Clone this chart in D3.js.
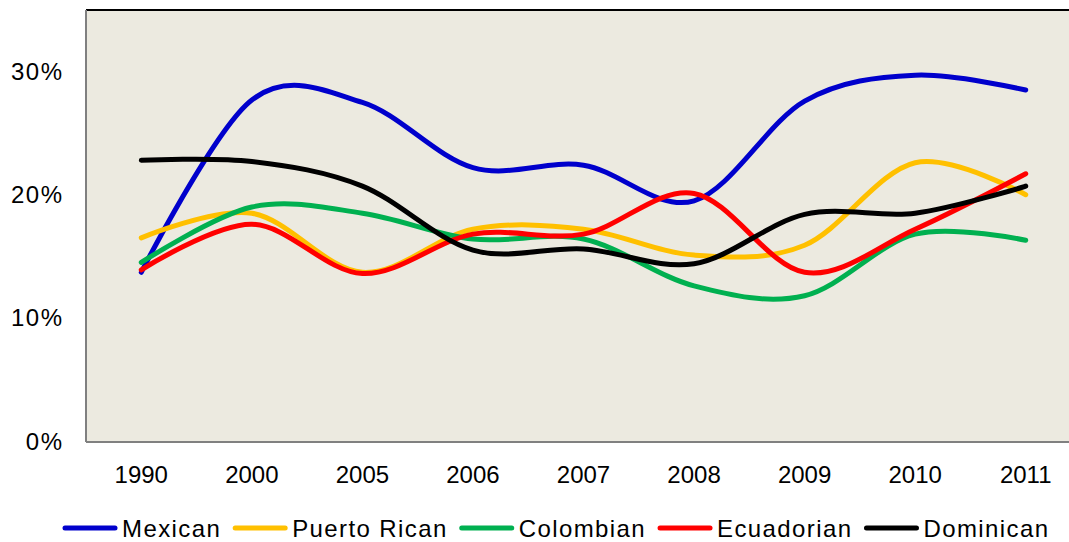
<!DOCTYPE html>
<html>
<head>
    <title>share by origin</title>
    <style>
        body {
            background: #ffffff;
            margin: 0;
            padding: 0;
            font-family: "Liberation Sans", Arial, sans-serif;
        }
        .tick-label {
            font-size: 24px;
            fill: #000000;
        }
        .y-label {
            letter-spacing: 1.5px;
        }
        .legend-text {
            font-size: 24px;
            fill: #000000;
            letter-spacing: 1.4px;
        }
        .series {
            fill: none;
            stroke-width: 5;
            stroke-linecap: round;
            stroke-linejoin: round;
        }
    </style>
</head>
<body>
    <svg id="chart" width="1069" height="542"></svg>
    <script src="https://d3js.org/d3.v7.min.js"></script>
    <script>
        // years on the x axis
        const years = ['1990', '2000', '2005', '2006', '2007', '2008', '2009', '2010', '2011'];

        // percent values
        const mexican     = [13.7, 27.7, 27.5, 22.2, 22.4, 19.5, 27.6, 29.7, 28.5];
        const puertoRican = [16.5, 18.5, 13.7, 17.2, 17.2, 15.1, 15.9, 22.6, 20.0];
        const colombian   = [14.5, 19.0, 18.5, 16.4, 16.4, 12.6, 11.8, 16.8, 16.3];
        const ecuadorian  = [13.9, 17.6, 13.6, 16.8, 16.8, 20.1, 13.7, 17.2, 21.7];
        const dominican   = [22.8, 22.7, 20.7, 15.5, 15.6, 14.4, 18.4, 18.5, 20.7];

        const yTicks = [0, 10, 20, 30];

        const series = [
            { name: 'Mexican', values: mexican, color: '#0000CC' },
            { name: 'Puerto Rican', values: puertoRican, color: '#FFC000' },
            { name: 'Colombian', values: colombian, color: '#00B050' },
            { name: 'Ecuadorian', values: ecuadorian, color: '#FF0000' },
            { name: 'Dominican', values: dominican, color: '#000000' }
        ];

        const svg = d3.select('#chart');

        // plot area runs past the right edge of the window
        const plot = { left: 86, top: 10, right: 1081, bottom: 441 };

        const x = d3.scalePoint()
            .domain(years)
            .range([plot.left, plot.right])
            .padding(0.5);

        const y = d3.scaleLinear()
            .domain([0, 35])
            .range([plot.bottom, plot.top]);

        // background
        svg.append('rect')
            .attr('x', plot.left)
            .attr('y', plot.top)
            .attr('width', plot.right - plot.left)
            .attr('height', plot.bottom - plot.top)
            .attr('fill', '#ECEAE0');

        // frame: black top, grey left and bottom
        svg.append('line')
            .attr('x1', plot.left).attr('x2', plot.right)
            .attr('y1', plot.top).attr('y2', plot.top)
            .attr('stroke', '#000000').attr('stroke-width', 2);
        svg.append('line')
            .attr('x1', plot.left).attr('x2', plot.left)
            .attr('y1', plot.top).attr('y2', plot.bottom + 1)
            .attr('stroke', '#808080').attr('stroke-width', 2);
        svg.append('line')
            .attr('x1', plot.left).attr('x2', plot.right)
            .attr('y1', plot.bottom + 1).attr('y2', plot.bottom + 1)
            .attr('stroke', '#808080').attr('stroke-width', 2);

        // y axis labels (trailing letter-spacing pushes them left, so offset)
        svg.append('g')
            .selectAll('text')
            .data(yTicks)
            .join('text')
            .attr('class', 'tick-label y-label')
            .attr('x', 63.5)
            .attr('y', d => y(d) + 8.5)
            .attr('text-anchor', 'end')
            .text(d => d + '%');

        // x axis labels
        svg.append('g')
            .selectAll('text')
            .data(years)
            .join('text')
            .attr('class', 'tick-label')
            .attr('x', d => x(d))
            .attr('y', 483)
            .attr('text-anchor', 'middle')
            .text(d => d);

        // smoothed lines like the spreadsheet
        const line = d3.line()
            .x((d, i) => x(years[i]))
            .y(d => y(d))
            .curve(d3.curveCardinal.tension(0));

        svg.append('g')
            .selectAll('path')
            .data(series)
            .join('path')
            .attr('class', 'series')
            .attr('stroke', d => d.color)
            .attr('d', d => line(d.values));

        // legend, laid out left to right
        const legend = svg.append('g');
        let lx = 63;
        const ly = 528;
        series.forEach(s => {
            legend.append('line')
                .attr('x1', lx + 2).attr('x2', lx + 52)
                .attr('y1', ly).attr('y2', ly)
                .attr('stroke', s.color)
                .attr('stroke-width', 5)
                .attr('stroke-linecap', 'round');
            const t = legend.append('text')
                .attr('class', 'legend-text')
                .attr('x', lx + 59)
                .attr('y', ly + 8.5)
                .text(s.name);
            lx += 59 + t.node().getComputedTextLength() + 12;
        });
    </script>
</body>
</html>
